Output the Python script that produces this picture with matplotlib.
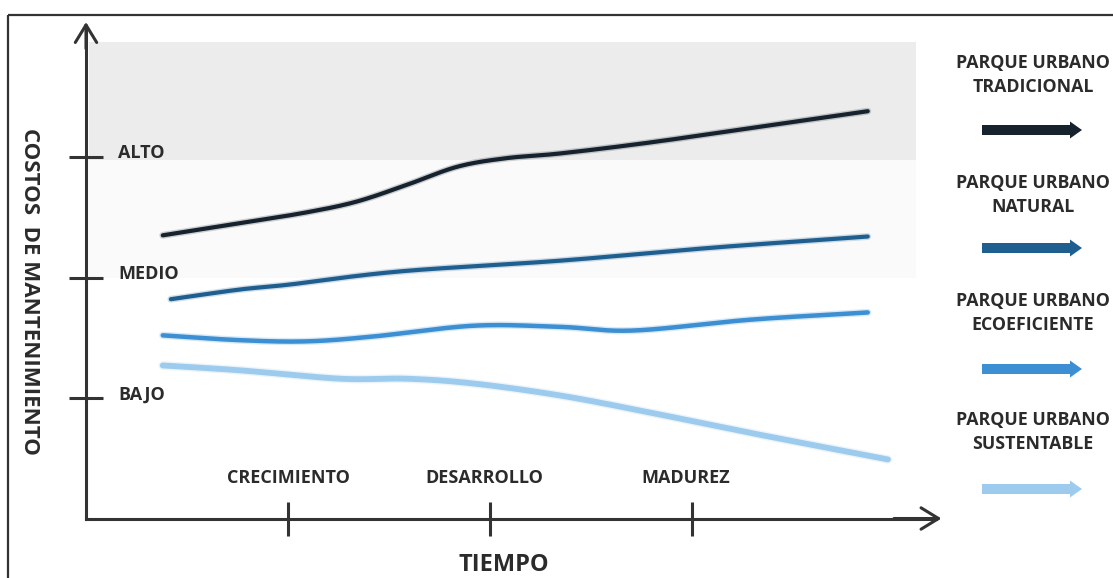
import numpy as np
import matplotlib
matplotlib.use("Agg")
import matplotlib.pyplot as plt
from matplotlib.patches import Rectangle, FancyArrow
import matplotlib.patheffects as pe

plt.rcParams['font.family'] = ['Open Sans', 'DejaVu Sans']

# Axis categories
stages = ["CRECIMIENTO", "DESARROLLO", "MADUREZ"]
stage_pos = [1, 2, 3]
cost_levels = ["BAJO", "MEDIO", "ALTO"]
cost_pos = [1, 2, 3]

# Maintenance cost over time for each park type (time, cost level)
trad_t = [0.38, 0.76, 1.09, 1.34, 1.59, 1.84, 2.08, 2.35, 2.79, 3.29, 3.87]
trad_v = [2.35, 2.45, 2.54, 2.63, 2.77, 2.92, 2.99, 3.03, 3.12, 3.24, 3.38]

nat_t = [0.42, 0.76, 1.00, 1.55, 2.35, 3.12, 3.87]
nat_v = [1.82, 1.90, 1.94, 2.05, 2.14, 2.25, 2.34]

eco_t = [0.38, 0.76, 1.09, 1.42, 1.92, 2.35, 2.71, 3.29, 3.87]
eco_v = [1.52, 1.48, 1.47, 1.51, 1.60, 1.59, 1.56, 1.65, 1.71]

sus_t = [0.38, 0.76, 1.26, 1.59, 1.92, 2.35, 2.79, 3.29, 3.97]
sus_v = [1.27, 1.23, 1.16, 1.16, 1.12, 1.02, 0.88, 0.71, 0.49]

series_names = ["PARQUE URBANO\nTRADICIONAL", "PARQUE URBANO\nNATURAL",
                "PARQUE URBANO\nECOEFICIENTE", "PARQUE URBANO\nSUSTENTABLE"]
series_colors = ["#16232e", "#1f5f90", "#3b8fd2", "#9dcbee"]
series_widths = [3.0, 3.0, 3.2, 4.2]

INK = "#2b2b2b"


def smooth(xs, ys, n=40):
    """Catmull-Rom curve through the given points."""
    p = np.column_stack([xs, ys]).astype(float)
    p = np.vstack([2 * p[0] - p[1], p, 2 * p[-1] - p[-2]])
    out = []
    s = np.linspace(0, 1, n, endpoint=False)[:, None]
    for i in range(1, len(p) - 2):
        p0, p1, p2, p3 = p[i - 1], p[i], p[i + 1], p[i + 2]
        seg = 0.5 * ((2 * p1) + (-p0 + p2) * s + (2 * p0 - 5 * p1 + 4 * p2 - p3) * s ** 2
                     + (-p0 + 3 * p1 - 3 * p2 + p3) * s ** 3)
        out.append(seg)
    out.append(p[-2][None, :])
    c = np.vstack(out)
    return c[:, 0], c[:, 1]


W, H = 1113, 578
fig = plt.figure(figsize=(W / 100, H / 100), dpi=100)
fig.patch.set_facecolor("white")

# Background layer in pixel units: frame, shaded band, legend
bg = fig.add_axes([0, 0, 1, 1], zorder=0)
bg.set_xlim(0, W)
bg.set_ylim(H, 0)
bg.axis("off")
bg.add_patch(Rectangle((89, 42), 827, 118, facecolor="#ececec", edgecolor="none"))
bg.add_patch(Rectangle((89, 160), 827, 118, facecolor="#fafafa", edgecolor="none"))
bg.plot([8, 8], [15, H + 5], color="#333333", lw=1.6, solid_capstyle="butt")
bg.plot([8, W + 5], [15, 15], color="#333333", lw=1.6, solid_capstyle="butt")

legend_text_y = [75, 195, 313, 432]
legend_arrow_y = [130, 248, 369, 489]
for name, col, ty, ay in zip(series_names, series_colors, legend_text_y, legend_arrow_y):
    bg.text(1033, ty, name, ha="center", va="center", fontsize=12.8,
            fontweight="bold", color=INK, linespacing=1.45)
    bg.add_patch(FancyArrow(982, ay, 100, 0, width=10, head_width=17,
                            head_length=12, length_includes_head=True,
                            facecolor=col, edgecolor="none"))

# Main chart in data units
ax = fig.add_axes([0, 0, 1, 1], zorder=1)
ax.set_facecolor("none")
ax.set_xlim(-86 / 202, (W - 86) / 202)
ax.set_ylim((518.5 - H) / 120.5, 518.5 / 120.5)

for sp in ("top", "right"):
    ax.spines[sp].set_visible(False)
ax.spines["left"].set_position(("data", 0))
ax.spines["bottom"].set_position(("data", 0))
ax.spines["left"].set_bounds(0, 4.08)
ax.spines["bottom"].set_bounds(0, 4.21)
for sp in ("left", "bottom"):
    ax.spines[sp].set_color("#333333")
    ax.spines[sp].set_linewidth(2.2)

ax.set_xticks(stage_pos)
ax.set_yticks(cost_pos)
ax.set_xticklabels([])
ax.set_yticklabels([])
ax.tick_params(axis="both", direction="inout", length=25, width=2.2, color="#333333")

arrow_kw = dict(arrowstyle="->,head_length=0.9,head_width=0.55", lw=2.2,
                color="#333333", shrinkA=0, shrinkB=0, mutation_scale=14)
ax.annotate("", xy=(4.235, 0), xytext=(4.0, 0), arrowprops=arrow_kw)
ax.annotate("", xy=(0, 4.12), xytext=(0, 3.9), arrowprops=arrow_kw)

for lab, v in zip(cost_levels, cost_pos):
    ax.text(0.16, v + 0.03, lab, ha="left", va="center", fontsize=13,
            fontweight="bold", color=INK)
for lab, t, dx in zip(stages, stage_pos, [0, -0.03, -0.03]):
    ax.text(t + dx, 0.34, lab, ha="center", va="center", fontsize=13,
            fontweight="bold", color=INK)

ax.text(2.07, -0.39, "TIEMPO", ha="center", va="center", fontsize=17,
        fontweight="bold", color=INK)
ax.text(-0.28, 1.888, "COSTOS  DE MANTENIMIENTO", ha="center", va="center",
        rotation=-90, fontsize=16, fontweight="bold", color=INK)

all_t = [trad_t, nat_t, eco_t, sus_t]
all_v = [trad_v, nat_v, eco_v, sus_v]
for t, v, col, lw in zip(all_t, all_v, series_colors, series_widths):
    xs, ys = smooth(t, v)
    ax.plot(xs, ys, color=col, lw=lw, solid_capstyle="round",
            path_effects=[pe.Stroke(linewidth=lw + 2.0, foreground=col, alpha=0.2),
                          pe.Normal()])

fig.savefig("out.png", dpi=100)
